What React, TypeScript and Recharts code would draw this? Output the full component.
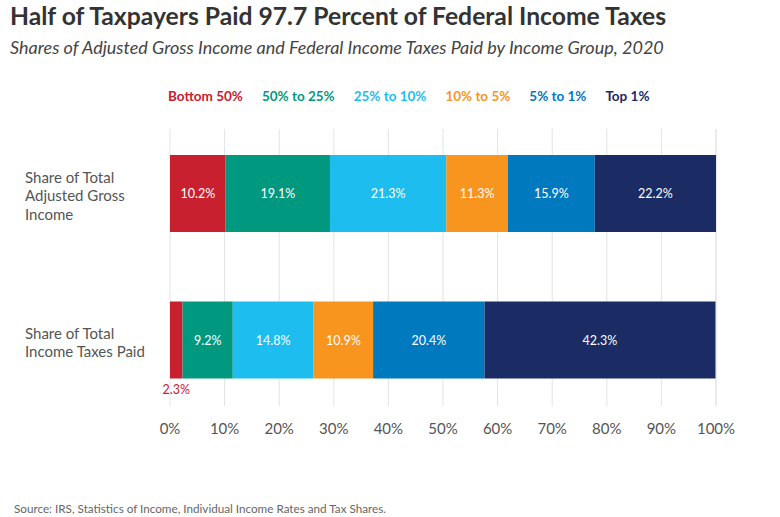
import React from 'react';
import { BarChart, Bar, XAxis, YAxis, CartesianGrid, LabelList } from 'recharts';

const categories = ['Share of Total Adjusted Gross Income', 'Share of Total Income Taxes Paid'];
const categoryLines = [
  ['Share of Total', 'Adjusted Gross', 'Income'],
  ['Share of Total', 'Income Taxes Paid'],
];
const seriesNames = ['Bottom 50%', '50% to 25%', '25% to 10%', '10% to 5%', '5% to 1%', 'Top 1%'];
const seriesColors = ['#C8202F', '#00997F', '#1DBDEF', '#F7951F', '#0079BF', '#1B2B63'];
const bottom50 = [10.2, 2.3];
const p50to25 = [19.1, 9.2];
const p25to10 = [21.3, 14.8];
const p10to5 = [11.3, 10.9];
const p5to1 = [15.9, 20.4];
const top1 = [22.2, 42.3];
const xTicks = [0, 10, 20, 30, 40, 50, 60, 70, 80, 90, 100];

const seriesValues = [bottom50, p50to25, p25to10, p10to5, p5to1, top1];
const data = categories.map((c, i) => {
  const row: any = { name: c };
  seriesNames.forEach((s, j) => { row[s] = seriesValues[j][i]; });
  return row;
});

const FONT = 'Lato, "Noto Sans", sans-serif';

const YTick = (props: any) => {
  const { y, payload } = props;
  const idx = categories.indexOf(payload.value);
  const lines = categoryLines[idx] || [payload.value];
  const lh = 18.5;
  const start = y - ((lines.length - 1) * lh) / 2 + 2;
  return (
    <text x={25} y={start} fill="#555" fontSize={15} fontFamily={FONT} dominantBaseline="central">
      {lines.map((l: string, k: number) => (
        <tspan key={k} x={25} y={start + k * lh}>{l}</tspan>
      ))}
    </text>
  );
};

const makeLabel = (color: string) => (props: any) => {
  const { x, y, width, height, value } = props;
  if (value < 5) {
    return (
      <text x={x + width / 2} y={y + height + 11} fill={color} fontSize={12.5} fontFamily={FONT}
        textAnchor="middle" dominantBaseline="central">{`${value}%`}</text>
    );
  }
  return (
    <text x={x + width / 2} y={y + height / 2} fill="#fff" fontSize={12.5} fontFamily={FONT}
      textAnchor="middle" dominantBaseline="central">{`${value}%`}</text>
  );
};

const gridLine = (p: any) => (
  <line key={p.key || `g-${p.x1}`} x1={p.x1} x2={p.x2} y1={p.y1 + 9} y2={p.y2 - 7} stroke="#e3e3e3" strokeWidth={1} />
);

export default function App() {
  return (
    <div style={{ position: 'absolute', left: 0, top: 0, width: 780, height: 517, background: '#fff', fontFamily: FONT }}>
      <div style={{ position: 'absolute', left: 10, top: 1, fontSize: 24.7, fontWeight: 700, color: '#333', whiteSpace: 'nowrap' }}>
        Half of Taxpayers Paid 97.7 Percent of Federal Income Taxes
      </div>
      <div style={{ position: 'absolute', left: 10, top: 36, fontSize: 18, fontStyle: 'italic', color: '#444', whiteSpace: 'nowrap' }}>
        Shares of Adjusted Gross Income and Federal Income Taxes Paid by Income Group, 2020
      </div>
      <div style={{ position: 'absolute', left: 168, top: 88, display: 'flex', gap: 19, fontWeight: 700, fontSize: 13.5, whiteSpace: 'nowrap' }}>
        {seriesNames.map((s, i) => (
          <span key={s} style={{ color: seriesColors[i] }}>{s}</span>
        ))}
      </div>
      <BarChart width={780} height={517} data={data} layout="vertical"
        margin={{ top: 120, right: 64, bottom: 74, left: 20 }}>
        <CartesianGrid horizontal={false} vertical={gridLine as any} />
        <XAxis type="number" domain={[0, 100]} ticks={xTicks} tickFormatter={(v) => `${v}%`}
          axisLine={false} tickLine={false} tickMargin={4} interval={0} height={30}
          tick={{ fill: '#555', fontSize: 15, fontFamily: FONT }} />
        <YAxis type="category" dataKey="name" width={150} axisLine={false} tickLine={false} tick={<YTick />} />
        {seriesNames.map((s, i) => (
          <Bar key={s} dataKey={s} stackId="a" fill={seriesColors[i]} barSize={77} isAnimationActive={false}>
            <LabelList dataKey={s} content={makeLabel(seriesColors[i])} />
          </Bar>
        ))}
      </BarChart>
      <div style={{ position: 'absolute', left: 14, top: 501, fontSize: 11.7, color: '#666', whiteSpace: 'nowrap' }}>
        Source: IRS, Statistics of Income, Individual Income Rates and Tax Shares.
      </div>
    </div>
  );
}
